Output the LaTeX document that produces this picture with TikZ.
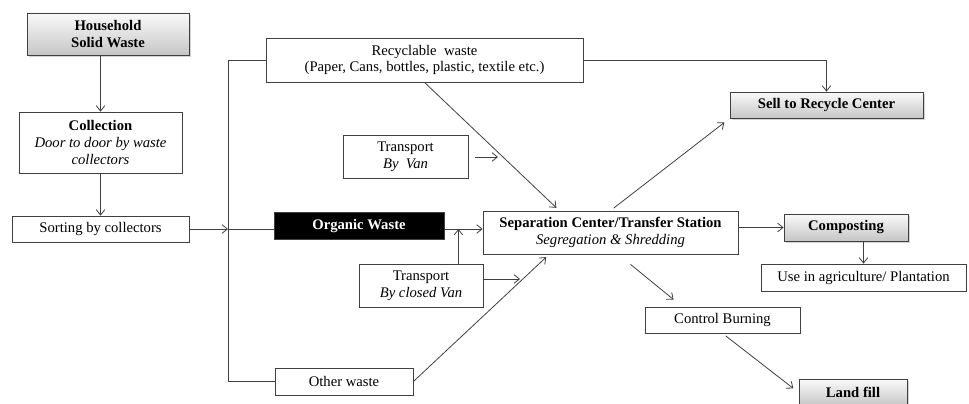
\documentclass[tikz,border=0pt]{standalone}
\usepackage{fontspec}
\setmainfont{Liberation Serif}
\usetikzlibrary{positioning,calc,shadows,arrows.meta}

\tikzset{
	box/.style={draw=black!75, line width=0.6pt, fill=white, inner sep=0pt, align=center, font=\fontsize{11}{12.5}\selectfont},
	greybox/.style={box, top color=gray!4, bottom color=gray!45, drop shadow={shadow xshift=1.2pt, shadow yshift=-1.2pt, opacity=0.35}, font=\fontsize{11}{12.5}\selectfont\bfseries},
	blackbox/.style={box, fill=black, text=white, font=\fontsize{11}{12.5}\selectfont\bfseries},
	link/.style={draw=black!75, line width=0.6pt},
	arr/.style={link, -{Straight Barb[length=4pt,width=6.5pt]}},
}

\begin{document}
\begin{tikzpicture}[x=0.75pt,y=-0.75pt]
			\useasboundingbox (0,0) rectangle (969,403);
			% left column
			\node[greybox, minimum width=121.5pt, minimum height=31.5pt] (household) at (108,34) {Household\\Solid Waste};
			\node[box, minimum width=122.25pt, minimum height=45.75pt] (collection) at (100.5,142.5) {\textbf{Collection}\\\textit{Door to door by waste}\\\textit{collectors}};
			\node[box, minimum width=132.75pt, minimum height=19.5pt] (sorting) at (100.5,229) {Sorting by collectors};
			\coordinate (hub) at (228,229);
			% waste streams
			\node[box, minimum width=237.75pt, minimum height=33pt] (recyclable) at (424.5,60) {Recyclable\ \ waste\\(Paper, Cans, bottles, plastic, textile etc.)};
			\node[box, minimum width=93.75pt, minimum height=32.25pt] (van) at (405.5,156.5) {Transport\\\textit{By\ \ Van}};
			\node[blackbox, minimum width=127.5pt, minimum height=20.25pt] (organic) at (359,226) {Organic Waste};
			\node[box, minimum width=93pt, minimum height=32.25pt] (closedvan) at (421,285.5) {Transport\\\textit{By closed Van}};
			\node[box, minimum width=103.5pt, minimum height=20.25pt] (other) at (344,381.5) {Other waste};
			% station and outputs
			\node[box, minimum width=191.25pt, minimum height=32.25pt] (separation) at (610.5,232.5) {\textbf{Separation Center/Transfer Station}\\\textit{Segregation \& Shredding}};
			\node[greybox, minimum width=144.75pt, minimum height=19.5pt] (sell) at (826.5,105) {Sell to Recycle Center};
			\node[greybox, minimum width=93pt, minimum height=20.25pt] (compost) at (846,227.5) {Composting};
			\node[box, minimum width=153.75pt, minimum height=20.25pt] (agri) at (863.5,277.5) {Use in agriculture/ Plantation};
			\node[box, minimum width=116.25pt, minimum height=19.5pt] (burning) at (722.5,320) {Control Burning};
			\node[greybox, minimum width=81pt, minimum height=20.25pt] (landfill) at (853,392.5) {Land fill};
			\coordinate (cvtop) at ($(closedvan.north west)!0.8!(closedvan.north east)$);
			\coordinate (cvend) at (520,279);
			\coordinate (vanend) at (498,157);
			% connectors
			\draw[arr] (household.south -| collection.north) -- (collection.north);
			\draw[arr] (collection.south) -- (sorting.north);
			\draw[arr] (sorting.east) -- (hub);
			\draw[link] (recyclable.west) -- (recyclable.west -| hub) -- (other.west -| hub) -- (other.west);
			\draw[link] (hub) -- (hub -| organic.west);
			\draw[arr] (hub -| organic.east) -- (hub -| separation.west);
			\draw[arr] (cvtop) -- (cvtop |- hub);
			\draw[arr] (closedvan.east |- cvend) -- (cvend);
			\draw[arr, shorten <=5pt] (van.east |- vanend) -- (vanend);
			\draw[arr, shorten >=3pt] (recyclable.south) -- ($(separation.north west)!0.3!(separation.north east)$);
			\draw[arr] (recyclable.east) -| (sell.north);
			\draw[arr, shorten <=3pt, shorten >=5pt] (separation.north) -- (sell.south west);
			\draw[arr] (compost.west -| separation.east) -- (compost.west);
			\draw[arr] (agri.north |- compost.south) -- (agri.north);
			\draw[arr] ([shift={(20,10)}]separation.south) -- ([shift={(29,-7)}]burning.north west);
			\draw[arr, shorten <=3pt, shorten >=5pt] (burning.south) -- (landfill.west);
			\draw[arr, shorten >=3pt] (other.east) -- ($(separation.south west)!0.26!(separation.south east)$);
		\end{tikzpicture}
\end{document}
